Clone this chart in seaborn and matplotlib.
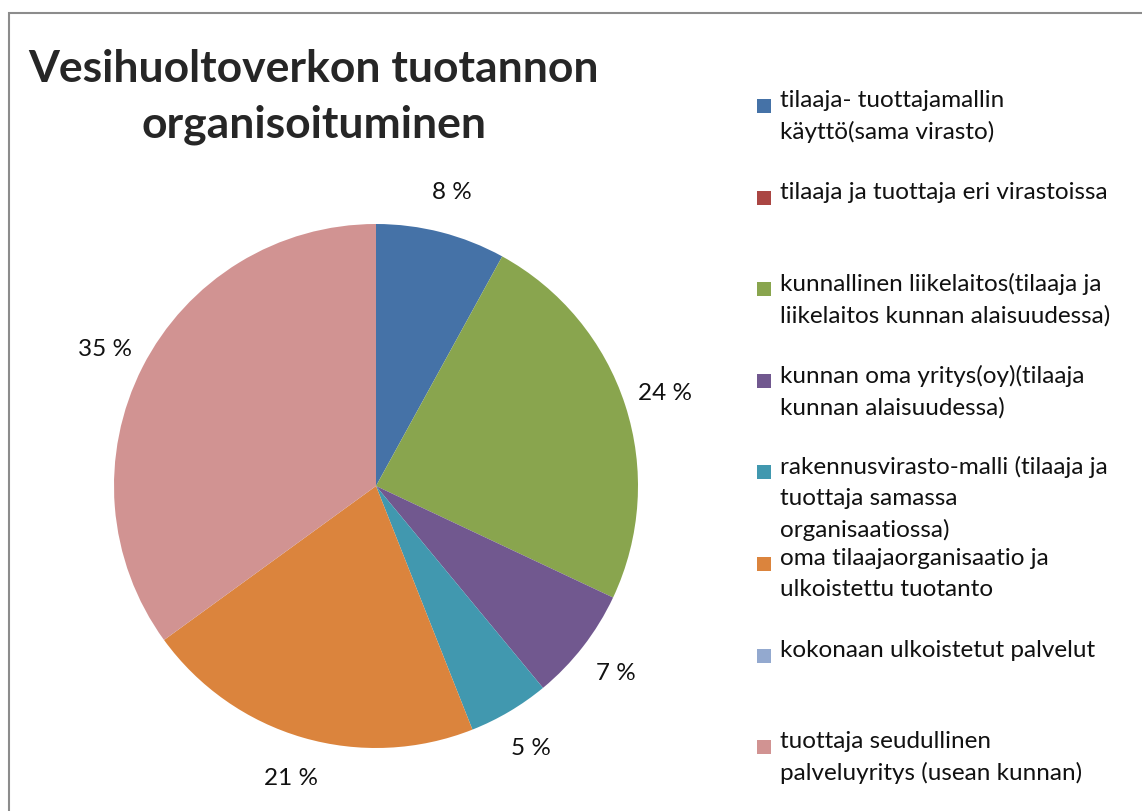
import matplotlib.pyplot as plt
import seaborn as sns
from matplotlib.patches import Rectangle

# data
categories = [
    "tilaaja- tuottajamallin\nkäyttö(sama virasto)",
    "tilaaja ja tuottaja eri virastoissa",
    "kunnallinen liikelaitos(tilaaja ja\nliikelaitos kunnan alaisuudessa)",
    "kunnan oma yritys(oy)(tilaaja\nkunnan alaisuudessa)",
    "rakennusvirasto-malli (tilaaja ja\ntuottaja samassa\norganisaatiossa)",
    "oma tilaajaorganisaatio ja\nulkoistettu tuotanto",
    "kokonaan ulkoistetut palvelut",
    "tuottaja seudullinen\npalveluyritys (usean kunnan)",
]
shares = [8, 0, 24, 7, 5, 21, 0, 35]
colors = ["#4572A7", "#AA4643", "#89A54E", "#71588F",
          "#4198AF", "#DB843D", "#93A9CF", "#D19392"]
title = "Vesihuoltoverkon tuotannon\norganisoituminen"

sns.set_theme(style="white")
plt.rcParams["font.family"] = ["Lato", "DejaVu Sans"]

W, H = 1142, 812
fig = plt.figure(figsize=(W / 100, H / 100), dpi=100)

# pie centre (376, 487) px, radius 262 px
lim = 1.4
side = 2 * lim * 262
cx, cy = 376, H - 487
ax = fig.add_axes([(cx - side / 2) / W, (cy - side / 2) / H, side / W, side / H])


def fmt(p):
    return f"{p:.0f} %" if p > 0.5 else ""


wedges, _, pct_texts = ax.pie(
    shares, colors=colors, startangle=90, counterclock=False,
    autopct=fmt, pctdistance=1.16,
    wedgeprops=dict(linewidth=0),
    textprops=dict(fontsize=17.5, color="#111111"))
ax.set_xlim(-lim, lim)
ax.set_ylim(-lim, lim)
ax.set_aspect("equal")
ax.axis("off")

# chart frame
fig.add_artist(Rectangle((9 / W, -0.1), 1.2, (H - 14) / H + 0.1,
                         transform=fig.transFigure, fill=False,
                         edgecolor="#8c8c8c", linewidth=1.5))

fig.text(314 / W, (H - 97) / H, title, ha="center", va="center",
         fontsize=32, fontweight="bold", linespacing=1.45)

# legend, Excel style: fixed slots, square aligned with first line
slot = 91.6
for i, (lab, col) in enumerate(zip(categories, colors)):
    yc = 107 + i * slot
    fig.add_artist(Rectangle((757 / W, (H - yc - 7) / H), 14 / W, 14 / H,
                             transform=fig.transFigure, color=col, lw=0))
    fig.text(780 / W, (H - yc + 17) / H, lab, ha="left", va="top",
             fontsize=17.5, color="#111111", linespacing=1.56)

fig.savefig("out.png", dpi=100)
